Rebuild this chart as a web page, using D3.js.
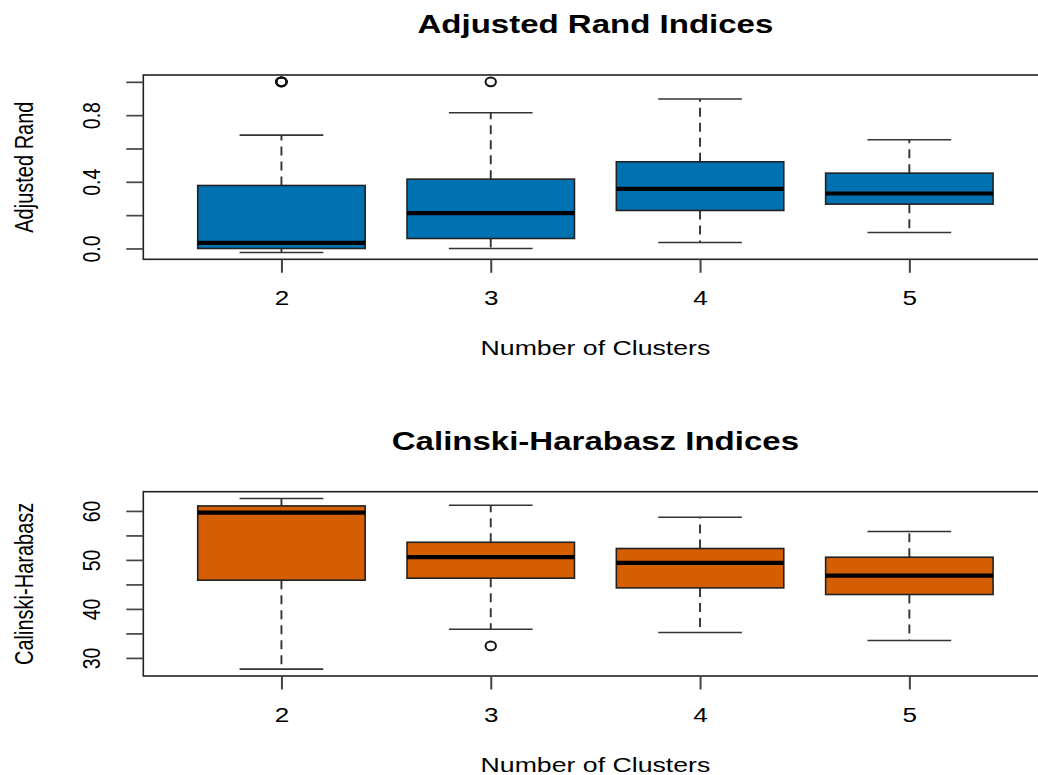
<!DOCTYPE html>
<html>
<head>
<meta charset="utf-8">
<script src="https://cdn.jsdelivr.net/npm/d3@7"></script>
<style>
  html, body { margin: 0; padding: 0; background: #ffffff; }
  svg { display: block; }
  text { font-family: "Liberation Sans", Arial, Helvetica, sans-serif; fill: #000; }
</style>
</head>
<body>
<svg id="chart" width="1038" height="775"></svg>
<script>
// Cluster counts on the x axis
const clusters = ["2", "3", "4", "5"];

// Adjusted Rand index: five-number summaries per cluster count
const arLow    = [-0.024, 0.000, 0.036, 0.096];
const arQ1     = [ 0.000, 0.060, 0.228, 0.266];
const arMedian = [ 0.034, 0.212, 0.358, 0.330];
const arQ3     = [ 0.378, 0.416, 0.520, 0.452];
const arHigh   = [ 0.680, 0.814, 0.897, 0.652];
const arOutliers = [[1.0, 1.0, 1.0, 1.0], [1.0], [], []];
const arTicks  = [0, 0.2, 0.4, 0.6, 0.8, 1.0];
const arTickLabels = ["0.0", "", "0.4", "", "0.8", ""];

// Calinski-Harabasz index: five-number summaries per cluster count
const chLow    = [27.70, 35.86, 35.18, 33.55];
const chQ1     = [45.86, 46.27, 44.29, 42.94];
const chMedian = [59.67, 50.55, 49.39, 46.80];
const chQ3     = [61.02, 53.60, 52.33, 50.55];
const chHigh   = [62.53, 61.16, 58.70, 55.80];
const chOutliers = [[], [32.45], [], []];
const chTicks  = [30, 35, 40, 45, 50, 55, 60];
const chTickLabels = ["30", "", "40", "", "50", "", "60"];

const svg = d3.select("#chart");
svg.append("rect").attr("width", 1038).attr("height", 775).attr("fill", "#fff");

// Glyphs are drawn slightly wider than tall
const SX = 1.27;
const plotLeft = 143.3, plotRight = 1047.5;

// Category positions: 1..n with the usual 4% padding around 0.5..n+0.5
const n = clusters.length;
const x = d3.scaleLinear()
  .domain([0.5 - 0.04 * n, n + 0.5 + 0.04 * n])
  .range([plotLeft, plotRight]);

function drawPanel(cfg) {
  const g = svg.append("g");
  const all = cfg.low.concat(cfg.high, cfg.outliers.flat());
  const lo = d3.min(all), hi = d3.max(all), r = hi - lo;
  const y = d3.scaleLinear()
    .domain([lo - 0.04 * r, hi + 0.04 * r])
    .range([cfg.bottom, cfg.top]);

  const boxW = x(1.4) - x(1);     // half of a 0.8-wide box
  const capW = x(1.2) - x(1);     // half of the whisker staple

  clusters.forEach((c, i) => {
    const cx = x(i + 1);
    const bg = g.append("g");
    // whiskers (dashed)
    [[cfg.q3[i], cfg.high[i]], [cfg.q1[i], cfg.low[i]]].forEach(([a, b]) => {
      bg.append("line")
        .attr("x1", cx).attr("x2", cx)
        .attr("y1", y(a)).attr("y2", y(b))
        .attr("stroke", "#333").attr("stroke-width", 1.9)
        .attr("stroke-dasharray", "9,6");
    });
    // staples
    [cfg.high[i], cfg.low[i]].forEach(v => {
      bg.append("line")
        .attr("x1", cx - capW).attr("x2", cx + capW)
        .attr("y1", y(v)).attr("y2", y(v))
        .attr("stroke", "#333").attr("stroke-width", 1.6);
    });
    // box
    bg.append("rect")
      .attr("x", cx - boxW).attr("width", 2 * boxW)
      .attr("y", y(cfg.q3[i])).attr("height", y(cfg.q1[i]) - y(cfg.q3[i]))
      .attr("fill", cfg.color).attr("stroke", "#222").attr("stroke-width", 1.6);
    // median
    bg.append("line")
      .attr("x1", cx - boxW).attr("x2", cx + boxW)
      .attr("y1", y(cfg.median[i])).attr("y2", y(cfg.median[i]))
      .attr("stroke", "#000").attr("stroke-width", 4.2);
    // outliers
    cfg.outliers[i].forEach(v => {
      bg.append("ellipse")
        .attr("cx", cx).attr("cy", y(v))
        .attr("rx", 5.2).attr("ry", 4.4)
        .attr("fill", "none").attr("stroke", "#111").attr("stroke-width", 2);
    });
  });

  // Plot frame
  g.append("rect")
    .attr("x", plotLeft).attr("y", cfg.top)
    .attr("width", plotRight - plotLeft).attr("height", cfg.bottom - cfg.top)
    .attr("fill", "none").attr("stroke", "#222").attr("stroke-width", 1.6);

  // Y axis
  const yAxis = g.append("g")
    .attr("transform", `translate(${plotLeft},0)`)
    .call(d3.axisLeft(y).tickValues(cfg.ticks).tickSize(17).tickSizeOuter(0)
      .tickFormat((d, i) => cfg.tickLabels[i]));
  yAxis.select(".domain").remove();
  yAxis.selectAll(".tick line").attr("stroke", "#444").attr("stroke-width", 1.7);
  yAxis.selectAll(".tick text")
    .attr("x", null).attr("dy", null)
    .attr("text-anchor", "middle")
    .attr("font-size", 19.5)
    .attr("fill", "#000")
    .attr("transform", `translate(${99.5 - plotLeft},0) scale(${SX},1) rotate(-90)`);

  // X axis
  const xAxis = g.append("g")
    .attr("transform", `translate(0,${cfg.bottom})`)
    .call(d3.axisBottom(x).tickValues(d3.range(1, n + 1)).tickSize(13.5).tickSizeOuter(0)
      .tickFormat(d => clusters[d - 1]));
  xAxis.select(".domain").remove();
  xAxis.selectAll(".tick line").attr("stroke", "#444").attr("stroke-width", 2);
  xAxis.selectAll(".tick text")
    .attr("y", null).attr("dy", null)
    .attr("text-anchor", "middle")
    .attr("font-size", 20.5)
    .attr("fill", "#000")
    .attr("transform", `translate(0,45.5) scale(${SX},1)`);

  // Title
  const midX = (plotLeft + plotRight) / 2;
  g.append("text")
    .attr("transform", `translate(${midX},${cfg.top - 41.7}) scale(${SX},1)`)
    .attr("text-anchor", "middle")
    .attr("font-size", 26).attr("font-weight", "bold")
    .text(cfg.title);

  // Axis titles
  g.append("text")
    .attr("transform", `translate(${midX},${cfg.bottom + 95.7}) scale(${SX},1)`)
    .attr("text-anchor", "middle")
    .attr("font-size", 21)
    .text("Number of Clusters");

  g.append("text")
    .attr("transform", `translate(33,${(cfg.top + cfg.bottom) / 2}) scale(${SX},1) rotate(-90)`)
    .attr("text-anchor", "middle")
    .attr("font-size", 20)
    .text(cfg.ylab);
}

drawPanel({
  top: 75, bottom: 259.3,
  low: arLow, q1: arQ1, median: arMedian, q3: arQ3, high: arHigh, outliers: arOutliers,
  ticks: arTicks, tickLabels: arTickLabels,
  color: "#0072B2",
  title: "Adjusted Rand Indices",
  ylab: "Adjusted Rand"
});

drawPanel({
  top: 491.7, bottom: 676,
  low: chLow, q1: chQ1, median: chMedian, q3: chQ3, high: chHigh, outliers: chOutliers,
  ticks: chTicks, tickLabels: chTickLabels,
  color: "#D55E00",
  title: "Calinski-Harabasz Indices",
  ylab: "Calinski-Harabasz"
});
</script>
</body>
</html>
